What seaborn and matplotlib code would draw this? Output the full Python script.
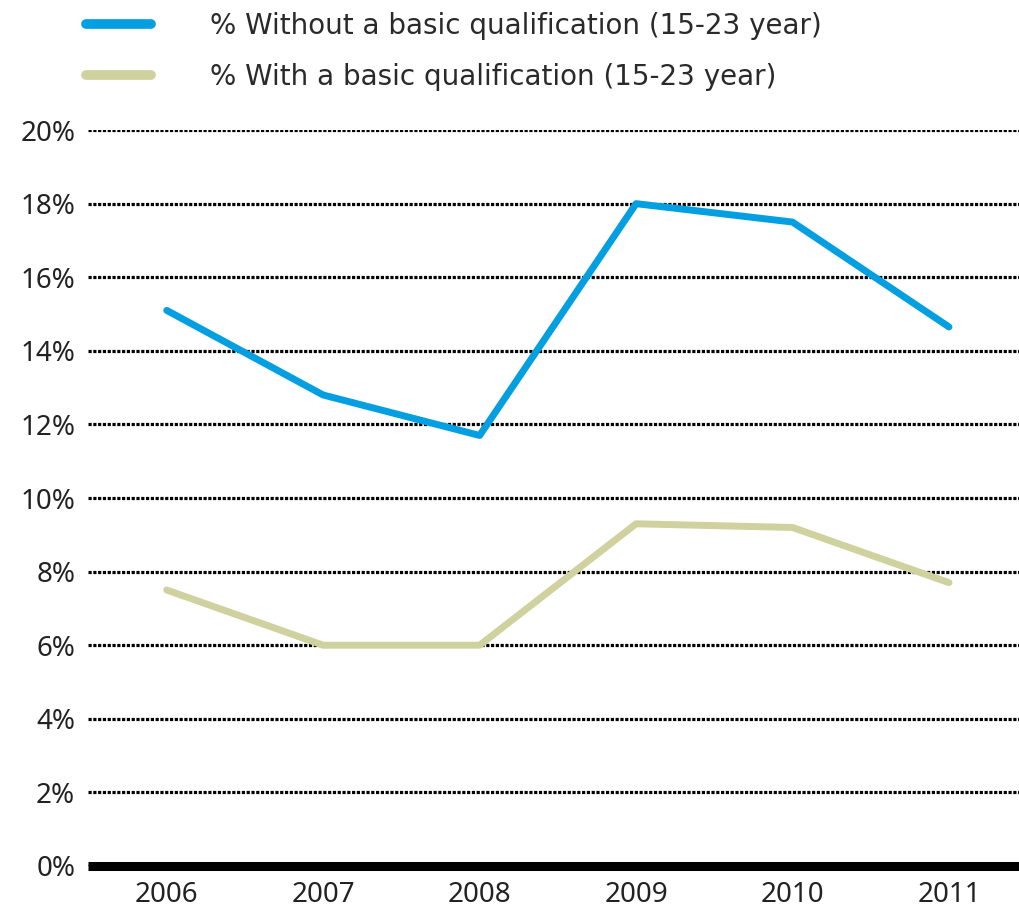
import pandas as pd
import matplotlib.pyplot as plt
import seaborn as sns

# Values
years = [2006, 2007, 2008, 2009, 2010, 2011]
without_basic = [15.1, 12.8, 11.7, 18.0, 17.5, 14.65]
with_basic = [7.5, 6.0, 6.0, 9.3, 9.2, 7.7]
series_names = ['% Without a basic qualification (15-23 year)',
                '% With a basic qualification (15-23 year)']
y_ticks = [0, 2, 4, 6, 8, 10, 12, 14, 16, 18, 20]

# Long format table for seaborn
df = pd.DataFrame({
    'Year': years * 2,
    'Percent': without_basic + with_basic,
    'Series': [series_names[0]] * len(years) + [series_names[1]] * len(years),
})

sns.set_style('white')
plt.rcParams['font.family'] = ['Noto Sans', 'DejaVu Sans']

fig = plt.figure(figsize=(10.2, 9.16), dpi=100)
ax = fig.add_axes([0.086, 0.0546, 0.914, 0.8034])

palette = {series_names[0]: '#039fe1', series_names[1]: '#cfd19e'}
sns.lineplot(data=df, x='Year', y='Percent', hue='Series', palette=palette,
             linewidth=5, ax=ax, legend=True)

# Dotted grid lines and thick baseline
ax.set_axisbelow(True)
ax.yaxis.grid(True, color='black', linestyle=(0, (1, 0.5)), linewidth=2.3)
ax.axhline(0, color='black', linewidth=6.5, clip_on=False, zorder=1,
           solid_capstyle='butt')

ax.set_ylim(0, 20)
ax.set_xlim(2005.495, 2011.454)
ax.set_yticks(y_ticks)
ax.set_yticklabels([f'{t}%' for t in y_ticks])
ax.set_xticks(years)
ax.set_xticklabels([str(y) for y in years])
ax.tick_params(axis='both', length=0, labelsize=20, colors='#222222')
ax.tick_params(axis='y', pad=9)
ax.tick_params(axis='x', pad=11)
ax.set_xlabel('')
ax.set_ylabel('')
sns.despine(ax=ax, left=True, bottom=True)

# Legend at the top left of the figure
handles, labels = ax.get_legend_handles_labels()
ax.legend_.remove()
leg = fig.legend(handles, labels, loc='upper left',
                 bbox_to_anchor=(86 / 1020, 1 - 12 / 916),
                 frameon=False, prop={'family': 'DejaVu Sans', 'size': 20},
                 handlelength=2.35, handletextpad=2.1, labelspacing=0.82,
                 borderpad=0, borderaxespad=0)
for line in leg.get_lines():
    line.set_linewidth(7)
for text in leg.get_texts():
    text.set_color('#2a2a2a')

fig.savefig('out.png', dpi=100)
